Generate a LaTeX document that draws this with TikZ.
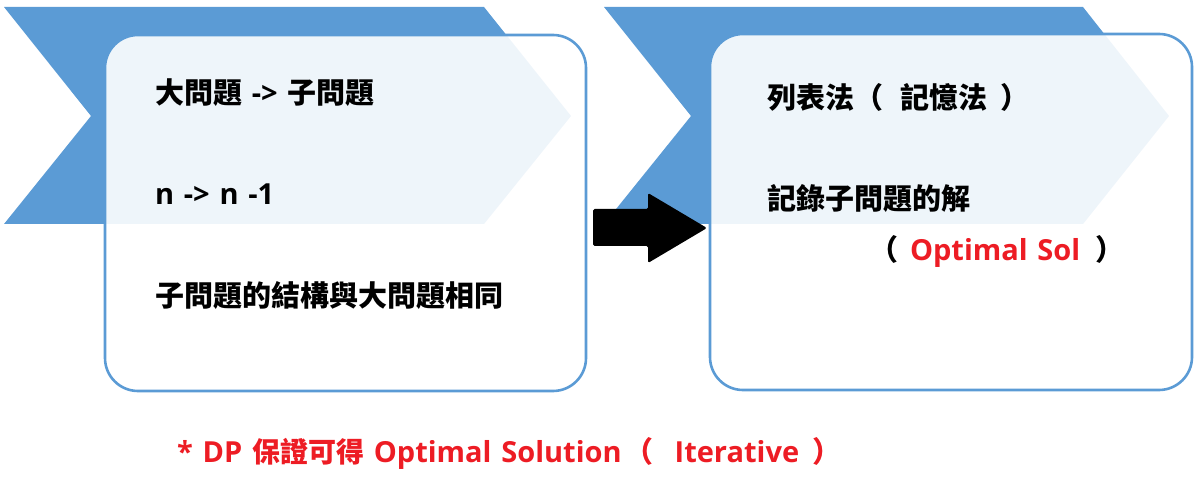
\documentclass[tikz,border=0pt]{standalone}
\usepackage{fontspec}
\setmainfont{Open Sans}[WordSpace=1.3]
\newfontfamily\cjk{Noto Sans CJK TC}
\definecolor{chev}{HTML}{5B9BD5}
\definecolor{redt}{HTML}{ED1C24}
\newcommand\CJ[1]{{\cjk #1}}
\begin{document}
\begin{tikzpicture}[x=1pt,y=-1pt,
  every node/.style={inner sep=0pt, outer sep=0pt},
  chevron/.style={fill=chev, draw=none},
  box/.style={draw=chev, line width=2.6pt, rounded corners=33pt, fill=white, fill opacity=0.9, text opacity=1},
  txt/.style={anchor=base west, font=\fontsize{29}{34}\selectfont\bfseries, text=black},
  btxt/.style={anchor=base west, font=\fontsize{29}{34}\selectfont\bfseries, text=redt}]
\useasboundingbox (0,0) rectangle (1196,502);
% chevrons
\fill[chevron] (4,7) -- (484,7) -- (571,116) -- (484,224) -- (4,224) -- (91,116) -- cycle;
\fill[chevron] (604,7) -- (1083,7) -- (1169,116) -- (1083,224) -- (604,224) -- (691,116) -- cycle;
% boxes
\node[box, minimum width=481pt, minimum height=356pt] (b1) at (345.5,213) {};
\node[box, minimum width=482pt, minimum height=356pt] (b2) at (951,212) {};
% arrow
\fill[black, rounded corners=1.5pt] (593,209) -- (648,209) -- (648,193) -- (707,228) -- (648,263) -- (648,246) -- (593,246) -- cycle;
% texts left
\node[txt] (t1) at (155,104) {\CJ{大問題} -> \CJ{子問題}};
\node[txt] (t2) at (155,205) {n -> n -1};
\node[txt] (t3) at (155,307) {\CJ{子問題的結構與大問題相同}};
% texts right
\node[txt] (r1) at (767,109) {\CJ{列表法（}\hspace{0.6em}\CJ{記憶法}\hspace{0.45em}\CJ{）}};
\node[txt] (r2) at (767,210) {\CJ{記錄子問題的解}};
\node[txt] (r3) at (869,261) {\CJ{（}\hspace{12pt}\textcolor{redt}{Optimal Sol}\hspace{15pt}\CJ{）}};
% bottom
\node[btxt] (bt) at (177,462) {* DP {\fontsize{28}{34}\selectfont\CJ{保證可得}} Optimal Solution\hspace{3pt}\CJ{（}\hspace{21pt}Iterative\hspace{13pt}\CJ{）}};
\end{tikzpicture}
\end{document}
